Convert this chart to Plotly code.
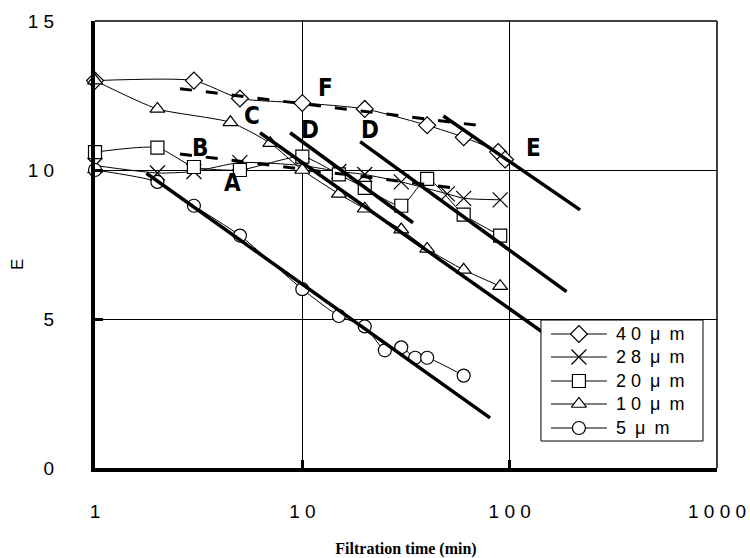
import numpy as np
import plotly.graph_objects as go

# Measured filtration data: E versus filtration time for each pore size
t_40 = [1, 3, 5, 10, 20, 40, 60, 88, 95]
e_40 = [13.0, 13.0, 12.4, 12.25, 12.05, 11.5, 11.1, 10.6, 10.35]

t_28 = [1, 2, 3, 5, 10, 15, 20, 30, 50, 60, 90]
e_28 = [10.15, 9.9, 9.95, 10.25, 10.15, 9.95, 9.85, 9.6, 9.2, 9.05, 9.0]

t_20 = [1, 2, 3, 5, 10, 15, 20, 30, 40, 60, 90]
e_20 = [10.6, 10.75, 10.1, 10.0, 10.45, 9.85, 9.4, 8.8, 9.7, 8.5, 7.8]

t_10 = [1, 2, 4.5, 7, 10, 15, 20, 30, 40, 60, 90]
e_10 = [13.0, 12.05, 11.6, 10.9, 10.0, 9.2, 8.7, 8.0, 7.35, 6.65, 6.1]

t_5 = [1, 2, 3, 5, 10, 15, 20, 25, 30, 35, 40, 60]
e_5 = [10.0, 9.6, 8.8, 7.8, 6.0, 5.1, 4.75, 3.95, 4.05, 3.7, 3.7, 3.1]

series_names = ["4 0\u2002μ\u2002m", "2 8\u2002μ\u2002m", "2 0\u2002μ\u2002m",
                "1 0\u2002μ\u2002m", "5\u2002μ\u2002m"]
series_symbols = ["diamond", "x-thin", "square", "triangle-up", "circle"]

# Regime lines (start/end points) and their labels
fit_A = ([1.77, 80.4], [9.89, 1.68])
fit_C = ([6.25, 151.0], [11.25, 4.46])
fit_D1 = ([8.73, 34.2], [11.25, 8.23])
fit_D2 = ([19.0, 188.0], [10.95, 5.92])
fit_E = ([47.9, 218.6], [11.81, 8.66])
dash_F = ([2.57, 80.0], [12.73, 11.45])
dash_B = ([2.57, 59.6], [10.54, 9.36])

label_text = ["A", "B", "C", "D", "D", "E", "F"]
label_t = [4.6, 3.2, 5.7, 10.9, 21.2, 130.0, 12.9]
label_e = [9.55, 10.75, 11.8, 11.35, 11.35, 10.75, 12.75]

x_tickvals = [1, 10, 100, 1000]
x_ticktext = ["1", "1 0", "1 0 0", "1 0 0 0"]
y_tickvals = [0, 5, 10, 15]
y_ticktext = ["0", "5", "1 0", "1 5"]

# Legend box and rows, in plot-area fractions (overlay axes x2/y2)
legend_box_x = [0.717, 0.9775]
legend_box_y = [0.0604, 0.331]
legend_row_y = [0.2998, 0.2483, 0.1946, 0.1432, 0.0895]
legend_line_x = [0.733, 0.823]
legend_text_x = 0.834

def marker_style(sym):
    is_x = sym == "x-thin"
    return dict(
        symbol=sym, size=15 if is_x else 13,
        color="black" if is_x else "white",
        line=dict(color="black", width=1.2),
    )

fig = go.Figure()

for (t, e), name, sym in zip(
    [(t_40, e_40), (t_28, e_28), (t_20, e_20), (t_10, e_10), (t_5, e_5)],
    series_names, series_symbols,
):
    fig.add_trace(go.Scatter(
        x=t, y=e, name=name, mode="lines+markers", showlegend=False,
        line=dict(color="black", width=1, shape="spline", smoothing=0.6),
        marker=marker_style(sym), cliponaxis=False,
    ))

for (t, e) in [fit_A, fit_C, fit_D1, fit_D2, fit_E]:
    fig.add_trace(go.Scatter(
        x=t, y=e, mode="lines", showlegend=False, hoverinfo="skip",
        line=dict(color="black", width=3.5),
    ))

for (t, e) in [dash_F, dash_B]:
    fig.add_trace(go.Scatter(
        x=t, y=e, mode="lines", showlegend=False, hoverinfo="skip",
        line=dict(color="black", width=3, dash="12px,14px"),
    ))

# Legend drawn on an overlay subplot so its symbols sit over a white box
x0, x1 = legend_box_x
y0, y1 = legend_box_y
fig.add_trace(go.Scatter(
    x=[x0, x1, x1, x0, x0], y=[y0, y0, y1, y1, y0], xaxis="x2", yaxis="y2",
    mode="lines", fill="toself", fillcolor="white",
    line=dict(color="black", width=1), showlegend=False, hoverinfo="skip",
    cliponaxis=False,
))
for name, sym, ry in zip(series_names, series_symbols, legend_row_y):
    fig.add_trace(go.Scatter(
        x=legend_line_x, y=[ry, ry], xaxis="x2", yaxis="y2", mode="lines",
        line=dict(color="black", width=1), showlegend=False, hoverinfo="skip",
        cliponaxis=False,
    ))
    fig.add_trace(go.Scatter(
        x=[sum(legend_line_x) / 2], y=[ry], xaxis="x2", yaxis="y2", mode="markers",
        marker=marker_style(sym), showlegend=False, hoverinfo="skip",
        cliponaxis=False,
    ))
    fig.add_annotation(
        x=legend_text_x, y=ry, xref="x2", yref="y2", text=name, showarrow=False,
        xanchor="left", yanchor="middle",
        font=dict(family="Liberation Sans, Arial", size=18, color="black"),
    )

for txt, t, e in zip(label_text, label_t, label_e):
    fig.add_annotation(
        x=np.log10(t), y=e, text=f"<b>{txt}</b>", showarrow=False,
        font=dict(family="DejaVu Sans Condensed, Liberation Sans", size=24, color="black"),
    )

# y-axis title, rotated
fig.add_annotation(
    x=-0.1254, y=0.454, xref="paper", yref="paper", text="E", showarrow=False,
    textangle=-90, xanchor="center", yanchor="middle",
    font=dict(family="Liberation Sans, Arial", size=17, color="black"),
)

# thin top and right frame
fig.add_shape(type="line", xref="paper", yref="paper", x0=0, x1=1, y0=1, y1=1,
              line=dict(color="black", width=1.5))
fig.add_shape(type="line", xref="paper", yref="paper", x0=1, x1=1, y0=0, y1=1,
              line=dict(color="black", width=1.5))

tick_font = dict(family="Liberation Sans, Arial", size=19, color="black")

fig.update_layout(
    width=750, height=558,
    margin=dict(l=95, r=33, t=21, b=90),
    paper_bgcolor="white", plot_bgcolor="white",
    showlegend=False,
    xaxis=dict(
        type="log", range=[0, 3], automargin=False,
        tickvals=x_tickvals, ticktext=x_ticktext, tickfont=tick_font,
        ticks="inside", ticklen=8, tickwidth=3, tickcolor="black",
        ticklabelstandoff=23,
        showline=True, linecolor="black", linewidth=4,
        showgrid=True, gridcolor="black", gridwidth=1,
        zeroline=False,
        title=dict(text="<b>Filtration time (min)</b>",
                   font=dict(family="Liberation Serif, Times New Roman", size=16, color="black"),
                   standoff=24),
    ),
    yaxis=dict(
        range=[0, 15], automargin=False,
        tickvals=y_tickvals, ticktext=y_ticktext, tickfont=tick_font,
        ticks="inside", ticklen=8, tickwidth=3, tickcolor="black",
        ticklabelstandoff=33,
        showline=True, linecolor="black", linewidth=4,
        showgrid=True, gridcolor="black", gridwidth=1,
        zeroline=False,
    ),
    xaxis2=dict(range=[0, 1], overlaying="x", visible=False, fixedrange=True),
    yaxis2=dict(range=[0, 1], overlaying="y", visible=False, fixedrange=True),
)

fig.write_html("out.html")
